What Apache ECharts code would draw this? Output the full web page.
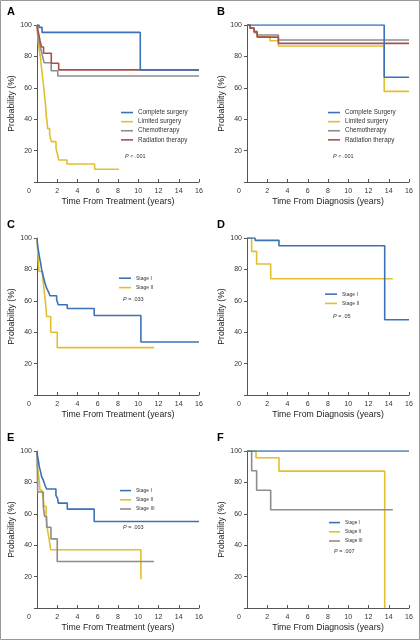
<!DOCTYPE html>
<html><head><meta charset="utf-8">
<script src="https://cdn.jsdelivr.net/npm/echarts@6/dist/echarts.min.js"></script>
<style>html,body{margin:0;padding:0;background:#fff}#c{width:420px;height:640px}</style>
</head><body><div id="c"></div>
<script>
// ---- data (time in years, probability in %) ----
const xMax = 16, xStep = 2;
const yMax = 100, yStep = 20;

// Panel A: Time from treatment
const aComplete  = [[0,100],[0.2,98.5],[0.5,95.3],[10.2,71.4],[16,71.4]];
const aLimited   = [[0,100],[0.07,93],[0.16,87],[0.25,83],[0.33,80],[0.43,73.5],[0.53,68],[0.6,64],[0.66,60.7],[0.76,54],[0.86,48],[0.92,42],[1.0,38],[1.05,34],[1.25,30],[1.41,25.7],[1.88,21.4],[2.04,17.2],[2.14,14],[2.96,11.5],[5.69,8.1],[8.1,8.1]];
const aChemo     = [[0,100],[0.1,93],[0.25,88],[0.4,84],[0.55,80],[0.7,76],[1.4,70.9],[2.05,67.5],[16,67.5]];
const aRadiation = [[0,100],[0.15,95],[0.3,90],[0.45,86],[0.65,82],[1.41,75.6],[2.14,71.4],[16,71.4]];

// Panel B: Time from diagnosis
const bComplete  = [[0,100],[13.55,66.7],[16,66.7]];
const bLimited   = [[0,100],[0.3,98],[0.7,95],[1.0,92.5],[2.27,90],[3.1,86.6],[13.55,57.7],[16,57.7]];
const bChemo     = [[0,100],[0.3,98],[0.7,96],[1.0,93.6],[3.1,90.4],[16,90.4]];
const bRadiation = [[0,100],[0.3,98],[0.7,95.5],[1.0,92.3],[3.1,88.3],[16,88.3]];

// Panel C
const cStage1 = [[0,100],[0.05,96],[0.13,92.5],[0.23,88.3],[0.36,84],[0.46,79.8],[0.62,75.5],[0.79,71.3],[0.95,68],[1.12,65.9],[1.28,63.2],[1.94,60.6],[2.1,57.5],[2.99,55.1],[5.65,50.6],[10.26,33.8],[16,33.8]];
const cStage2 = [[0,100],[0.05,94],[0.1,88],[0.15,83],[0.2,78.7],[0.55,75],[0.65,70],[0.75,64],[0.85,58],[0.95,50],[1.35,40],[2.0,30.2],[11.55,30.2]];

// Panel D
const dStage1 = [[0,100],[0.8,98.5],[3.16,95.1],[13.6,47.9],[16,47.9]];
const dStage2 = [[0,100],[0.46,91.5],[0.95,83.4],[2.34,74],[14.4,74]];

// Panel E
const eStage1 = [[0,100],[0.05,97],[0.13,94.2],[0.23,89.9],[0.36,86.7],[0.46,83.5],[0.62,81.4],[0.79,78.2],[0.95,75.8],[1.87,71.8],[2.04,69.6],[2.1,66.8],[2.99,63],[5.65,55.1],[16,55.1]];
const eStage2 = [[0,100],[0.07,89],[0.2,82],[0.3,75],[0.5,73.9],[0.62,69],[0.7,64.7],[0.9,58],[1.0,52],[1.05,49.3],[1.2,43.7],[1.35,37.1],[10.26,18.3]];
const eStage3 = [[0,100],[0.07,73.9],[0.62,64.7],[0.75,58.3],[0.95,51.4],[1.38,44],[2.0,29.6],[11.55,29.6]];

// Panel F
const fStage1 = [[0,100],[16,100]];
const fStage2 = [[0,100],[0.89,95.7],[3.16,87.2],[13.6,0]];
const fStage3 = [[0,100],[0.46,87.4],[0.95,75],[2.34,62.6],[14.4,62.6]];

const labelsA = ['Complete surgery','Limited surgery','Chemotherapy','Radiation therapy'];
const labelsB = ['Complete Surgery','Limited surgery','Chemotherapy','Radiation therapy'];
const labelsStage = ['Stage I','Stage II','Stage III'];
const letters = ['A','B','C','D','E','F'];
const pValues = ['< .001','< .001','= .033','= .05','= .003','= .007'];
const xNames = ['Time From Treatment (years)','Time From Diagnosis (years)'];
const yName = 'Probability (%)';

// ---- styling ----
const BLUE='#3b72b5', YEL='#e2bf2e', GRAY='#8d8d8d', RED='#a5514d';
const FONT = 'Liberation Sans, Arial, sans-serif';

const panels = [
  {series:[[labelsA[0],aComplete,BLUE],[labelsA[1],aLimited,YEL],[labelsA[2],aChemo,GRAY],[labelsA[3],aRadiation,RED]], leg:{left:121,top:108,w:12,fs:6.3,lh:9.1}, p:[125,157]},
  {series:[[labelsB[0],bComplete,BLUE],[labelsB[1],bLimited,YEL],[labelsB[2],bChemo,GRAY],[labelsB[3],bRadiation,RED]], leg:{left:328,top:108,w:12,fs:6.3,lh:9.1}, p:[333,157]},
  {series:[[labelsStage[0],cStage1,BLUE],[labelsStage[1],cStage2,YEL]], leg:{left:119,top:273.5,w:12,fs:5,lh:9.4}, p:[123,300]},
  {series:[[labelsStage[0],dStage1,BLUE],[labelsStage[1],dStage2,YEL]], leg:{left:325,top:289.5,w:12,fs:5,lh:9.3}, p:[333,317]},
  {series:[[labelsStage[0],eStage1,BLUE],[labelsStage[1],eStage2,YEL],[labelsStage[2],eStage3,GRAY]], leg:{left:120,top:486,w:11,fs:5,lh:9.2}, p:[123,528]},
  {series:[[labelsStage[0],fStage1,BLUE],[labelsStage[1],fStage2,YEL],[labelsStage[2],fStage3,GRAY]], leg:{left:329,top:518,w:11,fs:4.7,lh:9.2}, p:[334,552]}
];

const colLeft = [37, 247];
const rowTop = [25, 238, 451];
const gW = 162, gH = 157;

const grid=[], xAxis=[], yAxis=[], series=[], legend=[], graphic=[];
panels.forEach((pn, i) => {
  const col = i % 2, row = Math.floor(i / 2);
  grid.push({left: colLeft[col], top: rowTop[row], width: gW, height: gH, containLabel: false});
  xAxis.push({
    type:'value', gridIndex:i, min:0, max:xMax, interval:xStep,
    name: xNames[col], nameLocation:'middle', nameGap:15,
    nameTextStyle:{fontFamily:FONT, fontSize:8.7, color:'#222'},
    axisLine:{show:true, onZero:false, lineStyle:{color:'#555', width:1}},
    axisTick:{show:true, inside:true, length:3, lineStyle:{color:'#555'}},
    splitLine:{show:false},
    axisLabel:{margin:6, fontFamily:FONT, fontSize:7, color:'#333',
      formatter: v => v === 0 ? '{z|0}' : String(v),
      rich:{z:{fontFamily:FONT, fontSize:7, color:'#333', padding:[0,16,0,0]}}}
  });
  yAxis.push({
    type:'value', gridIndex:i, min:0, max:yMax, interval:yStep,
    name: yName, nameLocation:'middle', nameGap:20.5, nameRotate:90,
    nameTextStyle:{fontFamily:FONT, fontSize:8.7, color:'#222'},
    axisLine:{show:true, lineStyle:{color:'#555', width:1}},
    axisTick:{show:true, length:3, lineStyle:{color:'#555'}},
    splitLine:{show:false},
    axisLabel:{margin:5, fontFamily:FONT, fontSize:7, color:'#333',
      formatter: v => v === 0 ? '' : String(v)}
  });
  pn.series.forEach(([name, data, color]) => {
    series.push({
      type:'line', name, xAxisIndex:i, yAxisIndex:i, data, step:'end',
      color, showSymbol:false, symbol:'none', animation:false,
      lineStyle:{color, width:1.6}, z: color===BLUE?3:2
    });
  });
  legend.push({
    orient:'vertical', left:pn.leg.left, top:pn.leg.top, padding:0, itemGap:0,
    itemWidth:pn.leg.w, itemHeight:1.6, icon:'rect', selectedMode:false,
    data: pn.series.map(s => s[0]),
    textStyle:{fontFamily:FONT, fontSize:pn.leg.fs, lineHeight:pn.leg.lh, color:'#333'}
  });
  graphic.push({
    type:'text', left: col===0 ? 7 : 217, top: rowTop[row] - 19,
    style:{text: letters[i], font:'bold 11px ' + FONT, fill:'#000'}
  });
  graphic.push({
    type:'text', left: pn.p[0], top: pn.p[1] - 3.5,
    style:{text:'{i|P} ' + pValues[i], fill:'#333', font:'5.5px ' + FONT,
      rich:{i:{fontStyle:'italic', fontSize:5.5, fontFamily:FONT, fill:'#333'}}}
  });
});
graphic.push({type:'rect', shape:{x:0.5,y:0.5,width:419,height:639}, style:{fill:'none', stroke:'#999', lineWidth:1}, silent:true});

const chart = echarts.init(document.getElementById('c'), null, {renderer:'canvas'});
chart.setOption({animation:false, backgroundColor:'#fff', grid, xAxis, yAxis, series, legend, graphic});
</script>
</body></html>
